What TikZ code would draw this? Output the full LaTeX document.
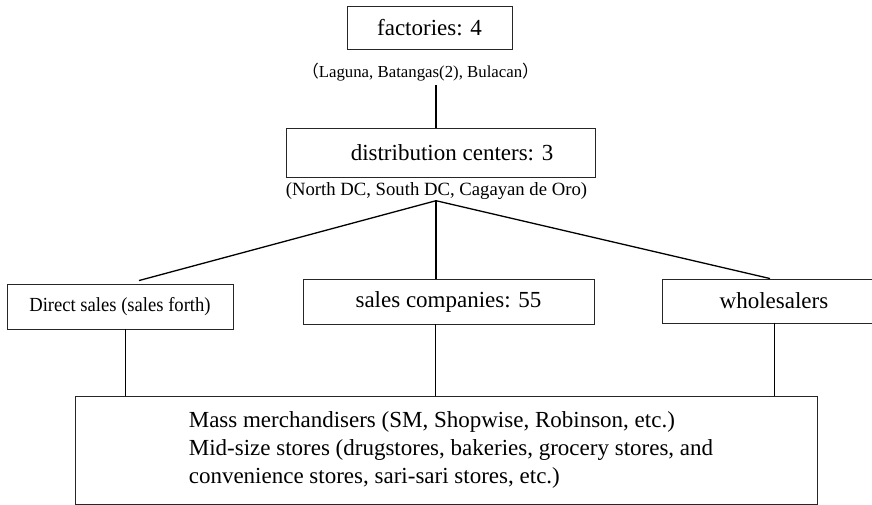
\documentclass[tikz,border=0pt]{standalone}
\usepackage{fontspec}
\usepackage{graphicx}
\setmainfont{Liberation Serif}
\newfontfamily\cjk{Noto Sans CJK SC}
\usetikzlibrary{calc}

\tikzset{
  box/.style={draw=black!85, line width=0.9pt, inner sep=0pt, align=center},
  big/.style={font=\fontsize{23}{28}\selectfont},
  note/.style={inner sep=0pt, align=center},
  link/.style={draw=black, line width=1.3pt}
}

\begin{document}
\begin{tikzpicture}[x=1pt, y=-1pt]
  \useasboundingbox (0,0) rectangle (872,505);

  % top level: factories and their locations
  \node[box, big, minimum width=165pt, minimum height=43pt] (fact) at (429.5,27.5) {factories: 4};
  \node[note, font=\fontsize{16.8}{20}\selectfont] (factlbl) at (420.5,72)
    {{\cjk （}Laguna, Batangas(2), Bulacan{\cjk ）}};

  % distribution centers
  \node[box, big, minimum width=309pt, minimum height=49pt] (dc) at (440.5,152.5)
    {\hspace*{23pt}distribution centers: 3};
  \node[note, font=\fontsize{18.7}{22}\selectfont] (dclbl) at (436.5,191)
    {(North DC, South DC, Cagayan de Oro)};

  % sales channels
  \node[box, minimum width=226pt, minimum height=45pt, font=\fontsize{20}{24}\selectfont] (ds) at (120,306.5)
    {\scalebox{0.93}[1]{Direct sales (sales forth)}};
  \node[box, big, minimum width=291pt, minimum height=45pt] (sc) at (448.5,301.5) {sales companies: 55};
  \node[box, big, minimum width=224pt, minimum height=44pt] (wh) at (774,301) {wholesalers};

  % retail outlets
  \node[box, big, align=left, minimum width=742pt, minimum height=108pt] (mass) at (446,450)
    {\hspace*{10pt}Mass merchandisers (SM, Shopwise, Robinson, etc.)\\
     \hspace*{10pt}Mid-size stores (drugstores, bakeries, grocery stores, and\\
     \hspace*{10pt}convenience stores, sari-sari stores, etc.)};

  % connectors
  \coordinate (trunk) at ($(factlbl.south)+(15.5,4)$);
  \draw[link] (trunk) -- (trunk |- dc.north);

  \coordinate (hub) at ($(dclbl.south)+(-0.5,1)$);
  \draw[link] (hub) -- ($(ds.north)+(19,-3)$);
  \draw[link] (hub) -- (hub |- sc.north);
  \draw[link] (hub) -- ($(wh.north)+(-4,0)$);

  \coordinate (dsout) at ($(ds.south)+(5,0)$);
  \coordinate (scout) at ($(sc.south)+(-13.5,0)$);
  \draw[link, line width=0.9pt] (dsout) -- (dsout |- mass.north);
  \draw[link, line width=0.9pt] (scout) -- (scout |- mass.north);
  \draw[link, line width=0.9pt] (wh.south) -- (wh.south |- mass.north);
\end{tikzpicture}
\end{document}
